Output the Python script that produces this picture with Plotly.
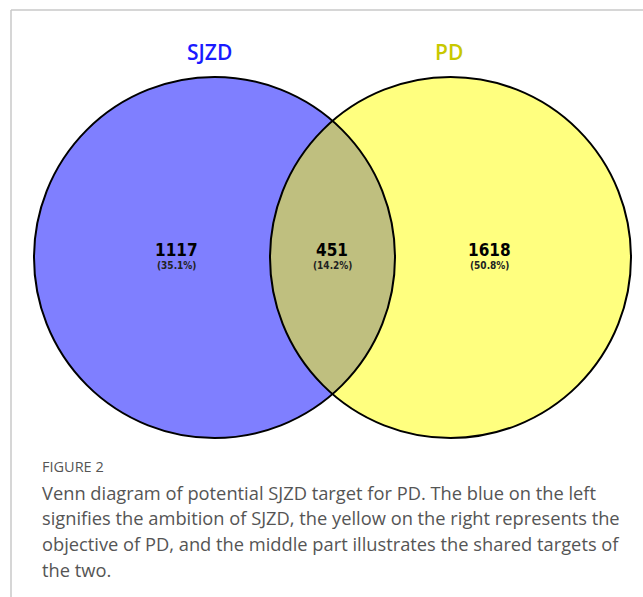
import plotly.graph_objects as go

# ---- data ----
set_names = ["SJZD", "PD"]
region_labels = ["SJZD only", "Both", "PD only"]
region_counts = [1117, 451, 1618]
total = sum(region_counts)
region_pcts = [c / total * 100 for c in region_counts]

caption_title = "FIGURE 2"
caption_lines = [
    "Venn diagram of potential SJZD target for PD. The blue on the left",
    "signifies the ambition of SJZD, the yellow on the right represents the",
    "objective of PD, and the middle part illustrates the shared targets of",
    "the two.",
]

# ---- geometry (pixel-like coordinates) ----
W, H = 643, 597
R = 180.5
cy = 257.5
cx_left, cx_right = 214.5, 450.5
name_y = 52
name_x = [209, 449]
name_colors = ["#1a1aff", "#c8c800"]
region_x = [176, 332, 489]

fig = go.Figure()

shapes = []
shapes.append(dict(type="circle", xref="x", yref="y",
                   x0=cx_left - R, x1=cx_left + R, y0=cy - R, y1=cy + R,
                   fillcolor="rgba(0,0,255,0.5)", line=dict(width=0), layer="below"))
shapes.append(dict(type="circle", xref="x", yref="y",
                   x0=cx_right - R, x1=cx_right + R, y0=cy - R, y1=cy + R,
                   fillcolor="rgba(255,255,0,0.5)", line=dict(width=0), layer="below"))
for cx in (cx_left, cx_right):
    shapes.append(dict(type="circle", xref="x", yref="y",
                       x0=cx - R, x1=cx + R, y0=cy - R, y1=cy + R,
                       fillcolor="rgba(0,0,0,0)", line=dict(color="black", width=2), layer="below"))
shapes.append(dict(type="line", xref="x", yref="y", x0=11, x1=W, y0=10, y1=10,
                   line=dict(color="#c8c8c8", width=1.5)))
shapes.append(dict(type="line", xref="x", yref="y", x0=11, x1=11, y0=10, y1=H,
                   line=dict(color="#c8c8c8", width=1.5)))

annotations = []
for nm, x, col in zip(set_names, name_x, name_colors):
    annotations.append(dict(x=x, y=name_y, xref="x", yref="y", text=nm, showarrow=False,
                            font=dict(family="Open Sans", size=21, color=col, weight=600),
                            xanchor="center", yanchor="middle"))
for x, c, p in zip(region_x, region_counts, region_pcts):
    annotations.append(dict(x=x, y=250, xref="x", yref="y", text=f"<b>{c}</b>", showarrow=False,
                            font=dict(family="DejaVu Sans Condensed, DejaVu Sans", size=17, color="black"),
                            xanchor="center", yanchor="middle"))
    annotations.append(dict(x=x, y=265, xref="x", yref="y", text=f"<b>({p:.1f}%)</b>", showarrow=False,
                            font=dict(family="DejaVu Sans Condensed, DejaVu Sans", size=10, color="#222"),
                            xanchor="center", yanchor="middle"))

annotations.append(dict(x=40, y=466, xref="x", yref="y", text=caption_title, showarrow=False,
                        font=dict(family="Open Sans", size=14.5, color="#555"),
                        xanchor="left", yanchor="middle"))
for i, line in enumerate(caption_lines):
    annotations.append(dict(x=40, y=492 + i * 25.7, xref="x", yref="y", text=line, showarrow=False,
                            font=dict(family="Open Sans", size=18.3, color="#555"),
                            xanchor="left", yanchor="middle"))

fig.update_layout(
    width=W, height=H, autosize=False,
    margin=dict(l=0, r=0, t=0, b=0),
    paper_bgcolor="white", plot_bgcolor="white",
    xaxis=dict(range=[0, W], visible=False, fixedrange=True),
    yaxis=dict(range=[H, 0], visible=False, fixedrange=True),
    shapes=shapes, annotations=annotations, showlegend=False,
)

fig.write_html("out.html", post_script="document.body.style.margin='0';document.body.style.overflow='hidden';",
               config={"displayModeBar": False})
